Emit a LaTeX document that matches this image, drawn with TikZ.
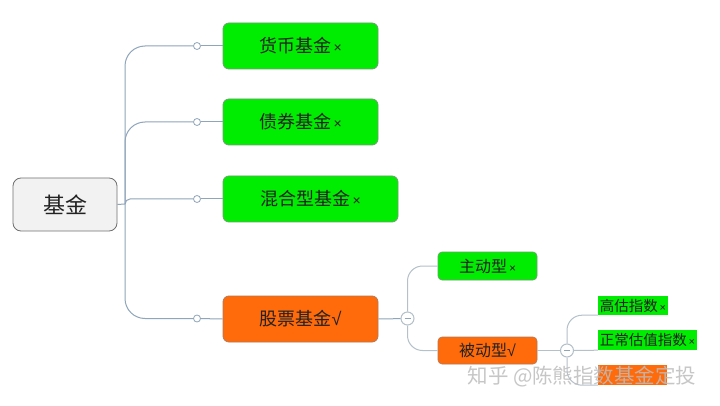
\documentclass[tikz,border=0pt]{standalone}
\usepackage{fontspec}
\setmainfont{Noto Sans CJK SC}
\newfontfamily\symfont{Liberation Sans}
\definecolor{linec}{HTML}{8FA5BA}
\definecolor{linec2}{HTML}{B4C0CA}
\definecolor{gfill}{HTML}{00EC00}
\definecolor{gdraw}{HTML}{6FA06F}
\definecolor{ofill}{HTML}{FF6A0A}
\definecolor{odraw}{HTML}{B07A5A}
\definecolor{rfill}{HTML}{F2F2F2}
\definecolor{rdraw}{HTML}{707070}
\definecolor{txt}{HTML}{222222}
\definecolor{wm}{HTML}{BDBDBD}
\newcommand{\xmark}[1]{{\symfont\fontsize{#1}{#1}\selectfont\,×}}
\newcommand{\ckmark}[1]{{\symfont\fontsize{#1}{#1}\selectfont √}}
\begin{document}
\begin{tikzpicture}[x=1pt,y=-1pt,
  conn/.style={draw=linec, line width=1pt, rounded corners=20pt},
  subconn/.style={draw=linec2, line width=1pt, rounded corners=15pt},
  dot/.style={circle, draw=linec, fill=white, inner sep=0pt, minimum size=7pt, line width=0.8pt},
  minus/.style={circle, draw=linec2, fill=white, minimum size=13pt, inner sep=0pt, line width=1pt,
    path picture={\draw[linec, line width=1.2pt] ([xshift=-3pt]path picture bounding box.center) -- ([xshift=3pt]path picture bounding box.center);}},
  rootbox/.style={draw=rdraw, fill=rfill, rounded corners=8pt, line width=0.8pt, minimum width=104pt, minimum height=53pt, text=txt, font=\fontsize{22}{24}\selectfont},
  lvone/.style={draw=gdraw, fill=gfill, rounded corners=6pt, line width=0.8pt, minimum width=155pt, minimum height=46pt, text=txt, font=\fontsize{18}{20}\selectfont},
  lvoneo/.style={lvone, draw=odraw, fill=ofill},
  lvtwo/.style={draw=gdraw, fill=gfill, rounded corners=4pt, line width=0.6pt, minimum width=99pt, minimum height=28pt, text=txt, font=\fontsize{16}{18}\selectfont},
  lvtwoo/.style={lvtwo, draw=odraw, fill=ofill},
  lvthree/.style={fill=gfill, inner sep=0pt, text=txt, font=\fontsize{14.5}{16}\selectfont}
]
\useasboundingbox (0,0) rectangle (720,406);
\fill[white] (0,0) rectangle (720,406);

% nodes
\node[rootbox] (root) at (65,204.5) {基金};
\node[lvone] (n1) at (300.5,46) {货币基金\xmark{14}};
\node[lvone] (n2) at (300.5,122) {债券基金\xmark{14}};
\node[lvone, minimum width=175pt] (n3) at (310.5,199) {混合型基金\xmark{14}};
\node[lvoneo] (n4) at (300.5,319) {股票基金\ckmark{18}};
\node[lvtwo] (a1) at (487.5,266) {主动型\xmark{12}};
\node[lvtwoo, minimum height=27pt] (a2) at (487.5,350.5) {被动型\ckmark{16}};
\node[lvthree, minimum width=70pt, minimum height=19pt] (b1) at (633,305.5) {高估指数\xmark{11}};
\node[lvthree, minimum width=99pt, minimum height=20pt] (b2) at (647.5,340) {正常估值指数\xmark{11}};
\node[lvthree, fill=ofill, minimum width=69pt, minimum height=20pt] (b3) at (632.5,375) {};

% junction dots
\coordinate (t) at (125,204);
\node[dot] (d1) at (197,46) {};
\node[dot] (d2) at (197,122) {};
\node[dot] (d3) at (197,199) {};
\node[dot] (d4) at (197,318.5) {};
\node[minus] (m1) at (407.5,318.5) {};
\node[minus] (m2) at (567,350.5) {};

% level-one connectors
\draw[conn] (root.east) -- (t);
\draw[conn] (t) |- (d1);
\draw[conn] (t) |- (d2);
\draw[conn, rounded corners=5pt] (t) |- (d3);
\draw[conn] (t) |- (d4);
\draw[draw=linec, line width=1pt] (d1) -- (n1.west);
\draw[draw=linec, line width=1pt] (d2) -- (n2.west);
\draw[draw=linec, line width=1pt] (d3) -- (n3.west);
\draw[draw=linec, line width=1pt] (d4) -- (n4.west);

% subtree of 股票基金
\draw[draw=linec, line width=1pt] (n4.east) -- (m1);
\draw[subconn] (m1.north) |- (a1.west);
\draw[subconn] (m1.south) |- (a2.west);
\draw[draw=linec2, line width=1pt] (a2.east) -- (m2);
\draw[subconn] (m2.north) |- (b1.south west);
\draw[draw=linec2, line width=1pt] (m2.east) -- (b2.south west);
\draw[subconn] (m2.south) |- (b3.south west);

% watermark
\node[text=wm, opacity=0.85, font=\fontsize{20.5}{22}\selectfont, inner sep=0pt] (wmk) at (582,377) {知乎 @陈熊指数基金定投};
\end{tikzpicture}
\end{document}
